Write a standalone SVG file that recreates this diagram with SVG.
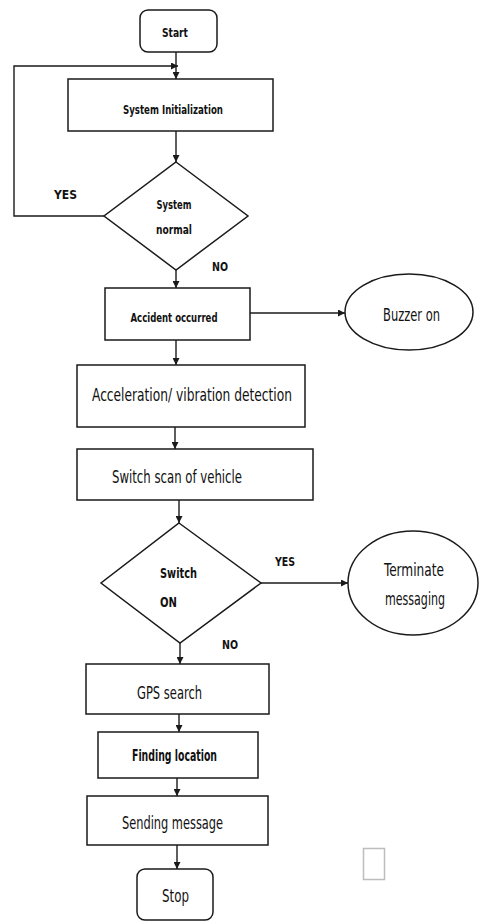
<svg xmlns="http://www.w3.org/2000/svg" width="480" height="922" viewBox="0 0 480 922">
<defs>
<marker id="ah" viewBox="0 0 8 8" refX="8" refY="4" markerWidth="7" markerHeight="7" markerUnits="userSpaceOnUse" orient="auto">
<path d="M0,0 L8,4 L0,8 z" fill="#1a1a1a"/>
</marker>
<style>
.box{fill:#fff;stroke:#1a1a1a;stroke-width:1.5}
.ln{fill:none;stroke:#1a1a1a;stroke-width:1.4}
.ar{fill:none;stroke:#1a1a1a;stroke-width:1.4;marker-end:url(#ah)}
text{font-family:"DejaVu Sans Condensed","Liberation Sans",sans-serif;fill:#111;text-anchor:middle}
.s{font-size:12.5px;font-weight:bold}
.m{font-size:15px;font-weight:bold}
.l{font-size:17px}
</style>
</defs>
<rect width="480" height="922" fill="#fff"/>
<g id="connectors">
<path class="ar" d="M176,52 V79"/>
<path class="ar" d="M104,216 H14 V66 H178"/>
<path class="ar" d="M176,131 V162"/>
<path class="ar" d="M176,270 V288"/>
<path class="ar" d="M250,313 H345"/>
<path class="ar" d="M176,340 V365"/>
<path class="ar" d="M175,427 V449"/>
<path class="ar" d="M179,500 V523"/>
<path class="ar" d="M261,583 H348"/>
<path class="ar" d="M180,643 V664"/>
<path class="ar" d="M179,714 V732"/>
<path class="ar" d="M177,778 V796"/>
<path class="ar" d="M177,845 V869"/>
</g>
<g id="start">
<rect class="box" x="140" y="10" width="77" height="42" rx="8"/>
<text class="s" x="175" y="37" textLength="26" lengthAdjust="spacingAndGlyphs">Start</text>
</g>
<g id="init">
<rect class="box" x="68" y="79" width="205" height="52"/>
<text class="s" x="173" y="114" textLength="100" lengthAdjust="spacingAndGlyphs">System Initialization</text>
</g>
<g id="normal">
<path class="box" d="M176,162 L248,216 L176,270 L104,216 Z"/>
<text class="s" x="174" y="209" textLength="35" lengthAdjust="spacingAndGlyphs">System</text>
<text class="s" x="174" y="234" textLength="36" lengthAdjust="spacingAndGlyphs">normal</text>
</g>
<g id="labels1">
<text class="s" x="65.5" y="199" textLength="23" lengthAdjust="spacingAndGlyphs">YES</text>
<text class="s" x="220" y="271" textLength="16" lengthAdjust="spacingAndGlyphs">NO</text>
</g>
<g id="accident">
<rect class="box" x="105" y="288" width="145" height="52"/>
<text class="s" x="174" y="322" textLength="87" lengthAdjust="spacingAndGlyphs">Accident occurred</text>
</g>
<g id="buzzer">
<ellipse class="box" cx="409" cy="312" rx="64" ry="38"/>
<text class="l" x="411.5" y="321" textLength="57" lengthAdjust="spacingAndGlyphs">Buzzer on</text>
</g>
<g id="accel">
<rect class="box" x="77" y="365" width="228" height="62"/>
<text class="l" x="192" y="401" textLength="200" lengthAdjust="spacingAndGlyphs">Acceleration/ vibration detection</text>
</g>
<g id="scan">
<rect class="box" x="77" y="449" width="236" height="51"/>
<text class="l" x="177" y="483" textLength="130" lengthAdjust="spacingAndGlyphs">Switch scan of vehicle</text>
</g>
<g id="switchon">
<path class="box" d="M179,523 L261,583 L180,643 L101,583 Z"/>
<text class="s" x="178.5" y="578" textLength="37" lengthAdjust="spacingAndGlyphs" style="font-size:13.5px">Switch</text>
<text class="s" x="168.5" y="607" textLength="17" lengthAdjust="spacingAndGlyphs" style="font-size:13.5px">ON</text>
</g>
<g id="labels2">
<text class="s" x="285" y="566" textLength="20" lengthAdjust="spacingAndGlyphs">YES</text>
<text class="s" x="230" y="649" textLength="16" lengthAdjust="spacingAndGlyphs">NO</text>
</g>
<g id="terminate">
<ellipse class="box" cx="413" cy="583" rx="65" ry="52"/>
<text class="l" x="414" y="576" textLength="60" lengthAdjust="spacingAndGlyphs">Terminate</text>
<text class="l" x="415" y="605" textLength="60" lengthAdjust="spacingAndGlyphs">messaging</text>
</g>
<g id="gps">
<rect class="box" x="86" y="664" width="183" height="50"/>
<text class="l" x="169.5" y="699" textLength="65" lengthAdjust="spacingAndGlyphs">GPS search</text>
</g>
<g id="finding">
<rect class="box" x="98" y="732" width="160" height="46"/>
<text class="m" x="174.5" y="761" textLength="85" lengthAdjust="spacingAndGlyphs">Finding location</text>
</g>
<g id="sending">
<rect class="box" x="87" y="796" width="181" height="49"/>
<text class="l" x="172.5" y="829" textLength="101" lengthAdjust="spacingAndGlyphs">Sending message</text>
</g>
<g id="stop">
<rect class="box" x="137" y="869" width="76" height="51" rx="8"/>
<text class="l" x="175.5" y="902" textLength="27" lengthAdjust="spacingAndGlyphs">Stop</text>
</g>
<rect x="363.5" y="848.5" width="21" height="31" fill="none" stroke="#bdbdbd" stroke-width="1.5"/>
</svg>
